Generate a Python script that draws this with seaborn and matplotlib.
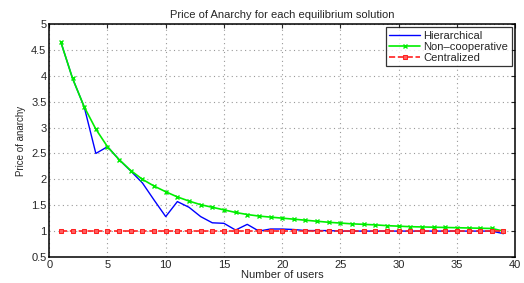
import numpy as np
import pandas as pd
import seaborn as sns
import matplotlib.pyplot as plt

users = list(range(1, 40))

hierarchical = [4.65, 3.95, 3.40, 2.50, 2.63, 2.38, 2.16, 1.93, 1.60, 1.28,
                1.57, 1.46, 1.28, 1.16, 1.15, 1.02, 1.13, 1.00, 1.04, 1.04,
                1.03, 1.01, 1.01, 1.01, 1.00, 1.00, 1.00, 1.00, 1.00, 1.00,
                1.00, 1.00, 1.00, 1.00, 1.00, 1.00, 1.00, 1.00, 0.95]

non_cooperative = [4.65, 3.95, 3.40, 2.97, 2.63, 2.38, 2.17, 2.00, 1.87, 1.76,
                   1.66, 1.58, 1.51, 1.46, 1.41, 1.36, 1.32, 1.29, 1.27, 1.25,
                   1.23, 1.21, 1.19, 1.17, 1.155, 1.14, 1.13, 1.12, 1.105, 1.095,
                   1.085, 1.08, 1.075, 1.07, 1.065, 1.06, 1.055, 1.05, 1.00]

centralized = [1.0] * 39

df = pd.DataFrame({
    'users': users,
    'Hierarchical': hierarchical,
    'Non-cooperative': non_cooperative,
    'Centralized': centralized,
})

sns.set_style("white")
plt.rcParams['font.family'] = ['Liberation Sans', 'DejaVu Sans']
plt.rcParams['axes.unicode_minus'] = False

fig = plt.figure(figsize=(5.24, 2.83), dpi=100)
ax = fig.add_axes([0.094, 0.092, 0.889, 0.823])

sns.lineplot(data=df, x='users', y='Hierarchical', ax=ax, color='#0000ff',
             linewidth=1.0, label='Hierarchical')
sns.lineplot(data=df, x='users', y='Non-cooperative', ax=ax, color='#00ee00',
             linewidth=1.2, marker='x', markersize=3.5, markeredgewidth=1.0,
             markeredgecolor='#00ee00', label='Non\u2013cooperative')
sns.lineplot(data=df, x='users', y='Centralized', ax=ax, color='#ff2020',
             linewidth=1.2, linestyle='--', marker='s', markersize=3,
             markerfacecolor='#ff6060', markeredgecolor='#ff2020',
             label='Centralized')

ax.set_xlim(0, 40)
ax.set_ylim(0.5, 5)
ax.set_xticks(np.arange(0, 41, 5))
ax.set_yticks(np.arange(0.5, 5.01, 0.5))
ax.set_yticklabels(['0.5', '1', '1.5', '2', '2.5', '3', '3.5', '4', '4.5', '5'])
ax.grid(True, linestyle=(0, (1, 3)), color='#999999', linewidth=0.8)
ax.tick_params(direction='in', length=3, labelsize=8, top=True, right=True,
               pad=2)
for s in ax.spines.values():
    s.set_linewidth(1.1)
    s.set_color('black')

ax.set_title('Price of Anarchy for each equilibrium solution', fontsize=8, pad=4)
ax.set_xlabel('Number of users', fontsize=8, labelpad=0)
ax.set_ylabel('Price of anarchy', fontsize=7, labelpad=4)

leg = ax.legend(loc='upper right', fontsize=8, frameon=True, fancybox=False,
                borderaxespad=0.3, handlelength=2.8, handletextpad=0.3,
                labelspacing=0.1, borderpad=0.3)
leg.get_frame().set_edgecolor('black')
leg.get_frame().set_linewidth(0.9)

fig.savefig('out.png', dpi=100)
